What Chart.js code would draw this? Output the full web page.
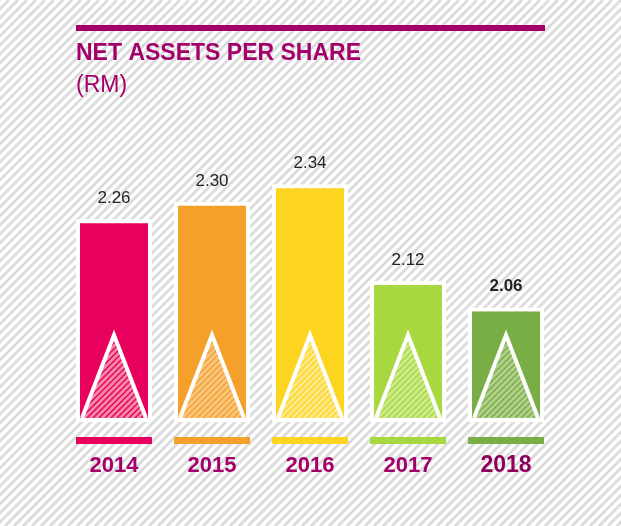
<!DOCTYPE html>
<html>
<head>
<meta charset="utf-8">
<script src="https://cdn.jsdelivr.net/npm/chart.js@4"></script>
<style>
  html, body { margin: 0; padding: 0; background: #fff; }
  #wrap { width: 621px; height: 526px; }
</style>
</head>
<body>
<div id="wrap"><canvas id="myChart" width="621" height="526"></canvas></div>
<script>
const years = ['2014', '2015', '2016', '2017', '2018'];
const values = [2.26, 2.30, 2.34, 2.12, 2.06];
const barColors = ['#e8005f', '#f5a02a', '#fdd520', '#a8d840', '#78ae45'];
const hatchColors = ['#f58aa8', '#f9c682', '#fde88a', '#cdeb8e', '#b0d08c'];

const purple = '#a3006a';
const font = '"Liberation Sans", Arial, sans-serif';

// diagonal stripe helper
function stripes(ctx, x0, y0, w, h, color, gap, lw) {
  ctx.save();
  ctx.beginPath();
  ctx.rect(x0, y0, w, h);
  ctx.clip();
  ctx.strokeStyle = color;
  ctx.lineWidth = lw;
  for (let k = -h; k < w + h; k += gap) {
    ctx.beginPath();
    ctx.moveTo(x0 + k, y0 + h);
    ctx.lineTo(x0 + k + h, y0);
    ctx.stroke();
  }
  ctx.restore();
}

const backdrop = {
  id: 'backdrop',
  beforeDraw(chart) {
    const ctx = chart.ctx;
    ctx.save();
    ctx.fillStyle = '#fff';
    ctx.fillRect(0, 0, chart.width, chart.height);
    stripes(ctx, 0, 0, chart.width, chart.height, '#dcdcdc', 9, 3);
    // title
    ctx.fillStyle = purple;
    ctx.fillRect(76, 25, 469, 6);
    ctx.font = 'bold 23px ' + font;
    ctx.textBaseline = 'alphabetic';
    ctx.fillText('NET ASSETS PER SHARE', 76, 60);
    ctx.font = '23px ' + font;
    ctx.fillText('(RM)', 76, 92);
    ctx.restore();
  },
  afterDatasetsDraw(chart) {
    const ctx = chart.ctx;
    const meta = chart.getDatasetMeta(0);
    const areaBottom = chart.chartArea.bottom;
    ctx.save();
    meta.data.forEach((bar, i) => {
      const w = bar.width - 8;
      const left = bar.x - w / 2;
      const bottom = areaBottom - 4;
      const apexY = bottom - 83;
      // hatched triangle
      ctx.save();
      ctx.beginPath();
      ctx.moveTo(left + 2, bottom);
      ctx.lineTo(bar.x, apexY);
      ctx.lineTo(left + w - 2, bottom);
      ctx.closePath();
      ctx.clip();
      ctx.fillStyle = hatchColors[i];
      ctx.fillRect(left, apexY, w, bottom - apexY);
      stripes(ctx, left, apexY, w, bottom - apexY, barColors[i], 6, 1.5);
      ctx.restore();
      ctx.beginPath();
      ctx.moveTo(left + 2, bottom);
      ctx.lineTo(bar.x, apexY);
      ctx.lineTo(left + w - 2, bottom);
      ctx.strokeStyle = '#fff';
      ctx.lineWidth = 4;
      ctx.lineJoin = 'miter';
      ctx.stroke();
      // white bottom edge
      ctx.fillStyle = '#fff';
      ctx.fillRect(bar.x - bar.width / 2, areaBottom - 4, bar.width, 4);
      // underline strip
      ctx.fillStyle = barColors[i];
      ctx.fillRect(bar.x - 38, 437, 76, 7);
      // value label
      ctx.fillStyle = '#222';
      ctx.font = (i === 4 ? 'bold ' : '') + '17px ' + font;
      ctx.textAlign = 'center';
      ctx.fillText(values[i].toFixed(2), bar.x, bar.y - 16);
      // year label
      ctx.fillStyle = i === 4 ? '#8e005c' : purple;
      ctx.font = 'bold ' + (i === 4 ? '23px ' : '22px ') + font;
      ctx.fillText(years[i], bar.x, 472);
    });
    ctx.restore();
  }
};

new Chart(document.getElementById('myChart'), {
  type: 'bar',
  data: {
    labels: years,
    datasets: [{
      data: values,
      backgroundColor: barColors,
      borderColor: '#fff',
      borderWidth: 4,
      borderSkipped: false,
      barPercentage: 0.776,
      categoryPercentage: 1
    }]
  },
  options: {
    responsive: false,
    animation: false,
    layout: { padding: { left: 65, right: 66, top: 100, bottom: 104 } },
    scales: {
      x: { display: false },
      y: { display: false, min: 1.8, max: 2.531 }
    },
    plugins: { legend: { display: false }, tooltip: { enabled: false } }
  },
  plugins: [backdrop]
});
</script>
</body>
</html>
